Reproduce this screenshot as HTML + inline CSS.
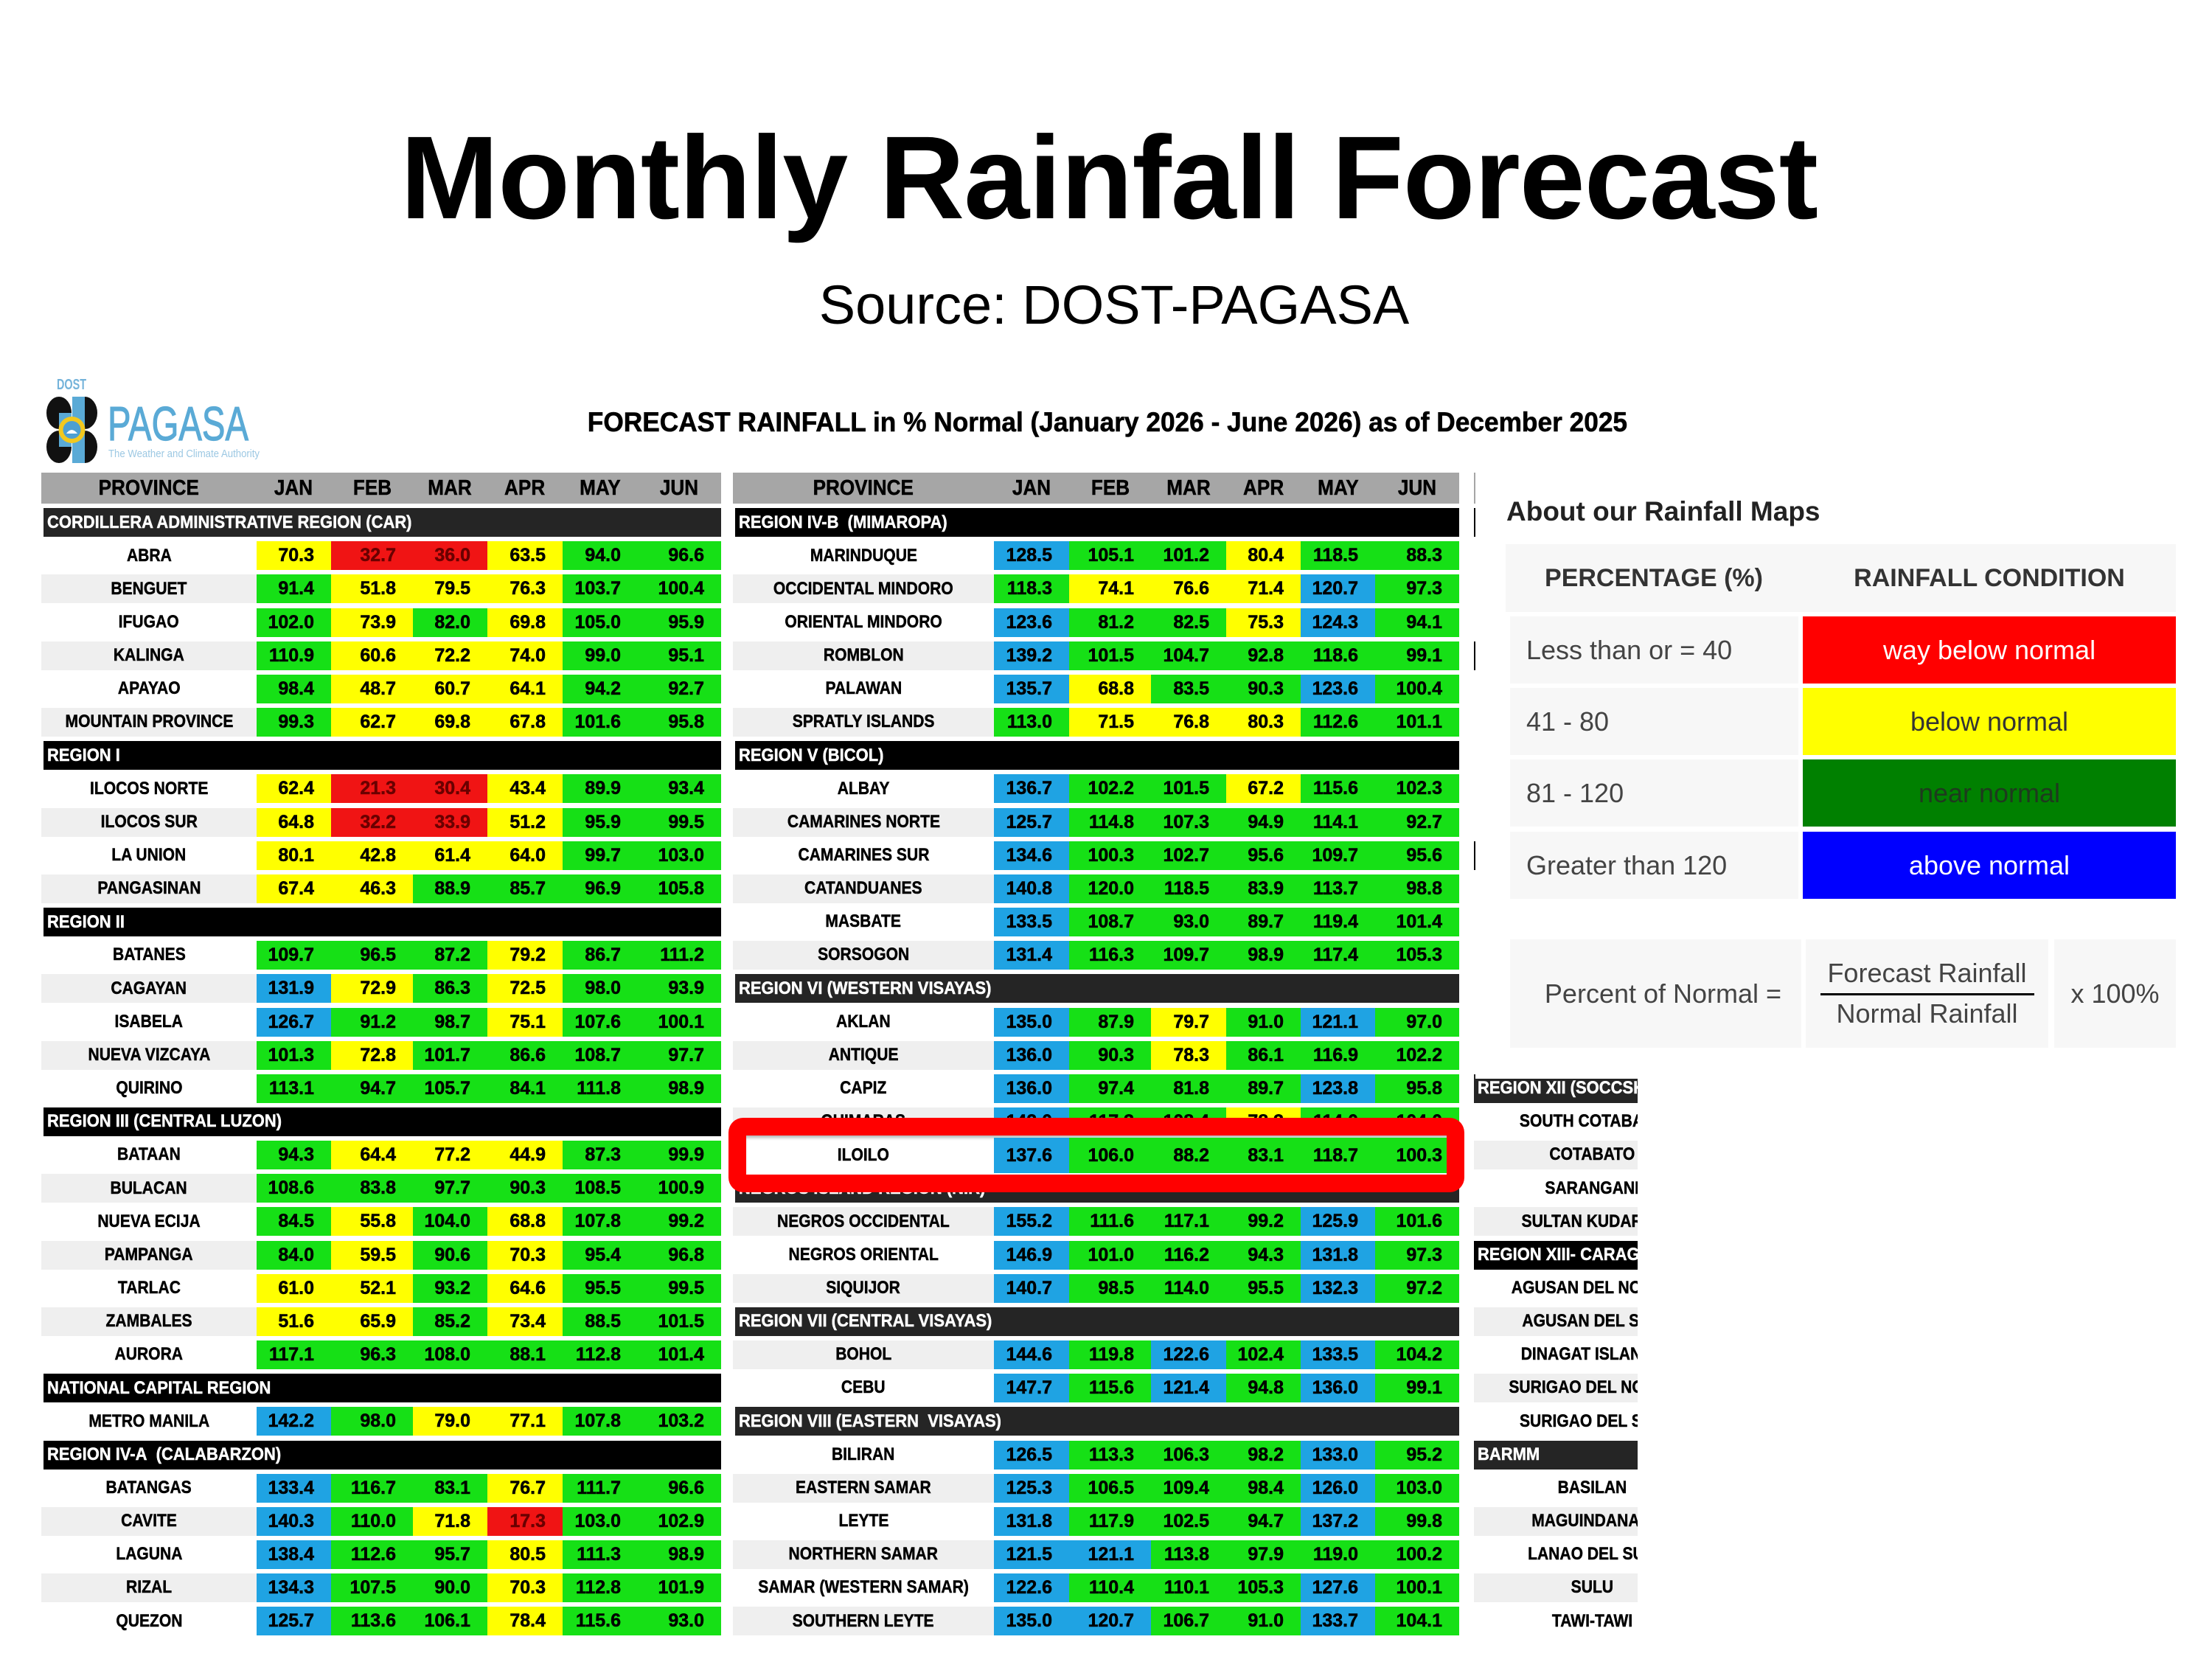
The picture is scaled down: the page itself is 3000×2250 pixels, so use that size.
<!DOCTYPE html>
<html><head><meta charset="utf-8">
<style>
html,body{margin:0;padding:0}
body{width:3000px;height:2250px;position:relative;overflow:hidden;background:#fff;font-family:"Liberation Sans",sans-serif}
.ab{position:absolute}
.t{position:absolute;top:641px}
.t>div{height:45.17px;box-sizing:border-box;padding:3px 0 3.17px 0;display:grid}
.L{width:922px}.L>div{grid-template-columns:292px 101px 111px 101px 102px 102px 113px}
.R{width:985px}.R>div{grid-template-columns:354px 102px 111px 102px 101px 101px 114px}
.M{width:222px;overflow:hidden}.M>div{grid-template-columns:320px}
.t>div>b{display:flex;align-items:center;justify-content:flex-end;padding-right:23px;font:bold 25px/1 "Liberation Sans",sans-serif;color:#000;overflow:visible;-webkit-text-stroke:0.5px currentColor}
.t>div>b:first-child{justify-content:center;padding-right:0;font-size:24.5px}
.t i{font-style:normal;display:inline-block;white-space:nowrap;transform:scaleX(.86)}
.t>div.h{padding-top:0}
.t>div.h>b{background:#a6a6a6;justify-content:center;padding-right:0;font-size:29px}
.t>div.h i{transform:scaleX(.9)}
.t>div>b.bar{grid-column:1/-1;justify-content:flex-start;padding:0 0 0 5px;margin-left:3px;background:#000;color:#fff;font-size:24px}
.t .bar i{transform-origin:0 50%;transform:scaleX(.915)}
.t>div>b.bar.d{background:#252525}
.s{background:#efefef}
.y{background:#ffff00}
.t b.r{background:#f01414;color:#6a0000}
.g{background:#16e016}
.b{background:#1fa3e3}
.lc{position:absolute;background:#f7f7f7;display:flex;align-items:center;font:36px/1 "Liberation Sans",sans-serif;color:#444;box-sizing:border-box}
.c{justify-content:center}
.hd{font-weight:bold;color:#333;font-size:34px}
</style></head><body>

<div class="ab" style="left:4px;top:161px;width:3000px;text-align:center;font:bold 160px/160px 'Liberation Sans',sans-serif;letter-spacing:-1px;color:#000;white-space:nowrap">Monthly Rainfall Forecast</div>
<div class="ab" style="left:11px;top:377px;width:3000px;text-align:center;font:74px/74px 'Liberation Sans',sans-serif;color:#000;white-space:nowrap">Source: DOST-PAGASA</div>

<svg class="ab" style="left:0;top:480px" width="400" height="170">
<text x="77" y="48" font-family="Liberation Sans" font-weight="bold" font-size="20" fill="#74b3da" textLength="40" lengthAdjust="spacingAndGlyphs">DOST</text>
<ellipse cx="80" cy="80" rx="17" ry="22" fill="#111"/>
<path d="M80 80 L97 80 L97 102 L80 102 Z" fill="#5aaad6"/>
<ellipse cx="115" cy="80" rx="17" ry="22" fill="#111"/>
<path d="M98 58 L115 58 L115 102 L98 102 Z" fill="#5aaad6"/>
<ellipse cx="80" cy="126" rx="17" ry="22" fill="#111"/>
<path d="M80 104 L97 104 L97 126 L80 126 Z" fill="#5aaad6"/>
<ellipse cx="115" cy="126" rx="17" ry="22" fill="#111"/>
<path d="M98 104 L115 104 L115 148 L98 148 Z" fill="#5aaad6"/>
<circle cx="97.5" cy="103" r="18" fill="#f2c81e"/>
<circle cx="97.5" cy="103" r="12" fill="#4d9fd2"/>
<path d="M90 108 Q97 98 105 108 Z" fill="#fff"/>
<text x="146" y="117" font-family="Liberation Sans" font-size="65" fill="#5aaad6" stroke="#5aaad6" stroke-width="1.2" textLength="191" lengthAdjust="spacingAndGlyphs">PAGASA</text>
<text x="147" y="140" font-family="Liberation Sans" font-size="15" fill="#9cc8e3" textLength="205" lengthAdjust="spacingAndGlyphs">The Weather and Climate Authority</text>
</svg>

<div class="ab" style="left:2px;top:554px;width:3000px;text-align:center;white-space:nowrap"><span style="display:inline-block;transform:scaleX(.953);font:bold 37px/37px 'Liberation Sans',sans-serif;color:#000;-webkit-text-stroke:0.6px #000">FORECAST RAINFALL in % Normal (January 2026 - June 2026) as of December 2025</span></div>

<!-- LEFT TABLE -->
<div class="t L" style="left:56px">
<div class="h"><b><i>PROVINCE</i></b><b><i>JAN</i></b><b><i>FEB</i></b><b><i>MAR</i></b><b><i>APR</i></b><b><i>MAY</i></b><b><i>JUN</i></b></div>
<div><b class="bar d"><i>CORDILLERA ADMINISTRATIVE REGION (CAR)</i></b></div>
<div><b><i>ABRA</i></b><b class="y">70.3</b><b class="r">32.7</b><b class="r">36.0</b><b class="y">63.5</b><b class="g">94.0</b><b class="g">96.6</b></div>
<div><b class="s"><i>BENGUET</i></b><b class="g">91.4</b><b class="y">51.8</b><b class="y">79.5</b><b class="y">76.3</b><b class="g">103.7</b><b class="g">100.4</b></div>
<div><b><i>IFUGAO</i></b><b class="g">102.0</b><b class="y">73.9</b><b class="g">82.0</b><b class="y">69.8</b><b class="g">105.0</b><b class="g">95.9</b></div>
<div><b class="s"><i>KALINGA</i></b><b class="g">110.9</b><b class="y">60.6</b><b class="y">72.2</b><b class="y">74.0</b><b class="g">99.0</b><b class="g">95.1</b></div>
<div><b><i>APAYAO</i></b><b class="g">98.4</b><b class="y">48.7</b><b class="y">60.7</b><b class="y">64.1</b><b class="g">94.2</b><b class="g">92.7</b></div>
<div><b class="s"><i>MOUNTAIN PROVINCE</i></b><b class="g">99.3</b><b class="y">62.7</b><b class="y">69.8</b><b class="y">67.8</b><b class="g">101.6</b><b class="g">95.8</b></div>
<div><b class="bar"><i>REGION I</i></b></div>
<div><b><i>ILOCOS NORTE</i></b><b class="y">62.4</b><b class="r">21.3</b><b class="r">30.4</b><b class="y">43.4</b><b class="g">89.9</b><b class="g">93.4</b></div>
<div><b class="s"><i>ILOCOS SUR</i></b><b class="y">64.8</b><b class="r">32.2</b><b class="r">33.9</b><b class="y">51.2</b><b class="g">95.9</b><b class="g">99.5</b></div>
<div><b><i>LA UNION</i></b><b class="y">80.1</b><b class="y">42.8</b><b class="y">61.4</b><b class="y">64.0</b><b class="g">99.7</b><b class="g">103.0</b></div>
<div><b class="s"><i>PANGASINAN</i></b><b class="y">67.4</b><b class="y">46.3</b><b class="g">88.9</b><b class="g">85.7</b><b class="g">96.9</b><b class="g">105.8</b></div>
<div><b class="bar"><i>REGION II</i></b></div>
<div><b><i>BATANES</i></b><b class="g">109.7</b><b class="g">96.5</b><b class="g">87.2</b><b class="y">79.2</b><b class="g">86.7</b><b class="g">111.2</b></div>
<div><b class="s"><i>CAGAYAN</i></b><b class="b">131.9</b><b class="y">72.9</b><b class="g">86.3</b><b class="y">72.5</b><b class="g">98.0</b><b class="g">93.9</b></div>
<div><b><i>ISABELA</i></b><b class="b">126.7</b><b class="g">91.2</b><b class="g">98.7</b><b class="y">75.1</b><b class="g">107.6</b><b class="g">100.1</b></div>
<div><b class="s"><i>NUEVA VIZCAYA</i></b><b class="g">101.3</b><b class="y">72.8</b><b class="g">101.7</b><b class="g">86.6</b><b class="g">108.7</b><b class="g">97.7</b></div>
<div><b><i>QUIRINO</i></b><b class="g">113.1</b><b class="g">94.7</b><b class="g">105.7</b><b class="g">84.1</b><b class="g">111.8</b><b class="g">98.9</b></div>
<div><b class="bar"><i>REGION III (CENTRAL LUZON)</i></b></div>
<div><b><i>BATAAN</i></b><b class="g">94.3</b><b class="y">64.4</b><b class="y">77.2</b><b class="y">44.9</b><b class="g">87.3</b><b class="g">99.9</b></div>
<div><b class="s"><i>BULACAN</i></b><b class="g">108.6</b><b class="g">83.8</b><b class="g">97.7</b><b class="g">90.3</b><b class="g">108.5</b><b class="g">100.9</b></div>
<div><b><i>NUEVA ECIJA</i></b><b class="g">84.5</b><b class="y">55.8</b><b class="g">104.0</b><b class="y">68.8</b><b class="g">107.8</b><b class="g">99.2</b></div>
<div><b class="s"><i>PAMPANGA</i></b><b class="g">84.0</b><b class="y">59.5</b><b class="g">90.6</b><b class="y">70.3</b><b class="g">95.4</b><b class="g">96.8</b></div>
<div><b><i>TARLAC</i></b><b class="y">61.0</b><b class="y">52.1</b><b class="g">93.2</b><b class="y">64.6</b><b class="g">95.5</b><b class="g">99.5</b></div>
<div><b class="s"><i>ZAMBALES</i></b><b class="y">51.6</b><b class="y">65.9</b><b class="g">85.2</b><b class="y">73.4</b><b class="g">88.5</b><b class="g">101.5</b></div>
<div><b><i>AURORA</i></b><b class="g">117.1</b><b class="g">96.3</b><b class="g">108.0</b><b class="g">88.1</b><b class="g">112.8</b><b class="g">101.4</b></div>
<div><b class="bar"><i>NATIONAL CAPITAL REGION</i></b></div>
<div><b><i>METRO MANILA</i></b><b class="b">142.2</b><b class="g">98.0</b><b class="y">79.0</b><b class="y">77.1</b><b class="g">107.8</b><b class="g">103.2</b></div>
<div><b class="bar"><i>REGION IV-A&nbsp; (CALABARZON)</i></b></div>
<div><b><i>BATANGAS</i></b><b class="b">133.4</b><b class="g">116.7</b><b class="g">83.1</b><b class="y">76.7</b><b class="g">111.7</b><b class="g">96.6</b></div>
<div><b class="s"><i>CAVITE</i></b><b class="b">140.3</b><b class="g">110.0</b><b class="y">71.8</b><b class="r">17.3</b><b class="g">103.0</b><b class="g">102.9</b></div>
<div><b><i>LAGUNA</i></b><b class="b">138.4</b><b class="g">112.6</b><b class="g">95.7</b><b class="y">80.5</b><b class="g">111.3</b><b class="g">98.9</b></div>
<div><b class="s"><i>RIZAL</i></b><b class="b">134.3</b><b class="g">107.5</b><b class="g">90.0</b><b class="y">70.3</b><b class="g">112.8</b><b class="g">101.9</b></div>
<div><b><i>QUEZON</i></b><b class="b">125.7</b><b class="g">113.6</b><b class="g">106.1</b><b class="y">78.4</b><b class="g">115.6</b><b class="g">93.0</b></div>
</div>

<!-- RIGHT TABLE -->
<div class="t R" style="left:994px">
<div class="h"><b><i>PROVINCE</i></b><b><i>JAN</i></b><b><i>FEB</i></b><b><i>MAR</i></b><b><i>APR</i></b><b><i>MAY</i></b><b><i>JUN</i></b></div>
<div><b class="bar"><i>REGION IV-B&nbsp; (MIMAROPA)</i></b></div>
<div><b><i>MARINDUQUE</i></b><b class="b">128.5</b><b class="g">105.1</b><b class="g">101.2</b><b class="y">80.4</b><b class="g">118.5</b><b class="g">88.3</b></div>
<div><b class="s"><i>OCCIDENTAL MINDORO</i></b><b class="g">118.3</b><b class="y">74.1</b><b class="y">76.6</b><b class="y">71.4</b><b class="b">120.7</b><b class="g">97.3</b></div>
<div><b><i>ORIENTAL MINDORO</i></b><b class="b">123.6</b><b class="g">81.2</b><b class="g">82.5</b><b class="y">75.3</b><b class="b">124.3</b><b class="g">94.1</b></div>
<div><b class="s"><i>ROMBLON</i></b><b class="b">139.2</b><b class="g">101.5</b><b class="g">104.7</b><b class="g">92.8</b><b class="g">118.6</b><b class="g">99.1</b></div>
<div><b><i>PALAWAN</i></b><b class="b">135.7</b><b class="y">68.8</b><b class="g">83.5</b><b class="g">90.3</b><b class="b">123.6</b><b class="g">100.4</b></div>
<div><b class="s"><i>SPRATLY ISLANDS</i></b><b class="g">113.0</b><b class="y">71.5</b><b class="y">76.8</b><b class="y">80.3</b><b class="g">112.6</b><b class="g">101.1</b></div>
<div><b class="bar"><i>REGION V (BICOL)</i></b></div>
<div><b><i>ALBAY</i></b><b class="b">136.7</b><b class="g">102.2</b><b class="g">101.5</b><b class="y">67.2</b><b class="g">115.6</b><b class="g">102.3</b></div>
<div><b class="s"><i>CAMARINES NORTE</i></b><b class="b">125.7</b><b class="g">114.8</b><b class="g">107.3</b><b class="g">94.9</b><b class="g">114.1</b><b class="g">92.7</b></div>
<div><b><i>CAMARINES SUR</i></b><b class="b">134.6</b><b class="g">100.3</b><b class="g">102.7</b><b class="g">95.6</b><b class="g">109.7</b><b class="g">95.6</b></div>
<div><b class="s"><i>CATANDUANES</i></b><b class="b">140.8</b><b class="g">120.0</b><b class="g">118.5</b><b class="g">83.9</b><b class="g">113.7</b><b class="g">98.8</b></div>
<div><b><i>MASBATE</i></b><b class="b">133.5</b><b class="g">108.7</b><b class="g">93.0</b><b class="g">89.7</b><b class="g">119.4</b><b class="g">101.4</b></div>
<div><b class="s"><i>SORSOGON</i></b><b class="b">131.4</b><b class="g">116.3</b><b class="g">109.7</b><b class="g">98.9</b><b class="g">117.4</b><b class="g">105.3</b></div>
<div><b class="bar d"><i>REGION VI (WESTERN VISAYAS)</i></b></div>
<div><b><i>AKLAN</i></b><b class="b">135.0</b><b class="g">87.9</b><b class="y">79.7</b><b class="g">91.0</b><b class="b">121.1</b><b class="g">97.0</b></div>
<div><b class="s"><i>ANTIQUE</i></b><b class="b">136.0</b><b class="g">90.3</b><b class="y">78.3</b><b class="g">86.1</b><b class="g">116.9</b><b class="g">102.2</b></div>
<div><b><i>CAPIZ</i></b><b class="b">136.0</b><b class="g">97.4</b><b class="g">81.8</b><b class="g">89.7</b><b class="b">123.8</b><b class="g">95.8</b></div>
<div><b class="s"><i>GUIMARAS</i></b><b class="b">142.0</b><b class="g">117.3</b><b class="g">108.4</b><b class="y">78.3</b><b class="g">114.0</b><b class="g">104.0</b></div>
<div><b><i>ILOILO</i></b><b class="b">137.6</b><b class="g">106.0</b><b class="g">88.2</b><b class="g">83.1</b><b class="g">118.7</b><b class="g">100.3</b></div>
<div><b class="bar d"><i>NEGROS ISLAND REGION (NIR)</i></b></div>
<div><b class="s"><i>NEGROS OCCIDENTAL</i></b><b class="b">155.2</b><b class="g">111.6</b><b class="g">117.1</b><b class="g">99.2</b><b class="b">125.9</b><b class="g">101.6</b></div>
<div><b><i>NEGROS ORIENTAL</i></b><b class="b">146.9</b><b class="g">101.0</b><b class="g">116.2</b><b class="g">94.3</b><b class="b">131.8</b><b class="g">97.3</b></div>
<div><b class="s"><i>SIQUIJOR</i></b><b class="b">140.7</b><b class="g">98.5</b><b class="g">114.0</b><b class="g">95.5</b><b class="b">132.3</b><b class="g">97.2</b></div>
<div><b class="bar d"><i>REGION VII (CENTRAL VISAYAS)</i></b></div>
<div><b class="s"><i>BOHOL</i></b><b class="b">144.6</b><b class="g">119.8</b><b class="b">122.6</b><b class="g">102.4</b><b class="b">133.5</b><b class="g">104.2</b></div>
<div><b><i>CEBU</i></b><b class="b">147.7</b><b class="g">115.6</b><b class="b">121.4</b><b class="g">94.8</b><b class="b">136.0</b><b class="g">99.1</b></div>
<div><b class="bar d"><i>REGION VIII (EASTERN&nbsp; VISAYAS)</i></b></div>
<div><b><i>BILIRAN</i></b><b class="b">126.5</b><b class="g">113.3</b><b class="g">106.3</b><b class="g">98.2</b><b class="b">133.0</b><b class="g">95.2</b></div>
<div><b class="s"><i>EASTERN SAMAR</i></b><b class="b">125.3</b><b class="g">106.5</b><b class="g">109.4</b><b class="g">98.4</b><b class="b">126.0</b><b class="g">103.0</b></div>
<div><b><i>LEYTE</i></b><b class="b">131.8</b><b class="g">117.9</b><b class="g">102.5</b><b class="g">94.7</b><b class="b">137.2</b><b class="g">99.8</b></div>
<div><b class="s"><i>NORTHERN SAMAR</i></b><b class="b">121.5</b><b class="b">121.1</b><b class="g">113.8</b><b class="g">97.9</b><b class="g">119.0</b><b class="g">100.2</b></div>
<div><b><i>SAMAR (WESTERN SAMAR)</i></b><b class="b">122.6</b><b class="g">110.4</b><b class="g">110.1</b><b class="g">105.3</b><b class="b">127.6</b><b class="g">100.1</b></div>
<div><b class="s"><i>SOUTHERN LEYTE</i></b><b class="b">135.0</b><b class="b">120.7</b><b class="g">106.7</b><b class="g">91.0</b><b class="b">133.7</b><b class="g">104.1</b></div>
</div>

<!-- THIRD (CLIPPED) TABLE -->
<div class="t M" style="left:1999px">
<div class="h"><b></b></div>
<div><b class="bar" style="margin-left:0"></b></div>
<div></div><div></div><div></div>
<div><b class="bar" style="margin-left:0"></b></div>
<div></div><div></div><div></div><div></div><div></div>
<div><b class="bar" style="margin-left:0"></b></div>
<div></div><div></div><div></div><div></div><div></div><div></div>
<div><b class="bar d" style="margin-left:0"><i>REGION XII (SOCCSKSARGEN)</i></b></div>
<div><b><i>SOUTH COTABATO</i></b></div>
<div><b class="s"><i>COTABATO</i></b></div>
<div><b><i>SARANGANI</i></b></div>
<div><b class="s"><i>SULTAN KUDARAT</i></b></div>
<div><b class="bar" style="margin-left:0"><i>REGION XIII- CARAGA</i></b></div>
<div><b><i>AGUSAN DEL NORTE</i></b></div>
<div><b class="s"><i>AGUSAN DEL SUR</i></b></div>
<div><b><i>DINAGAT ISLANDS</i></b></div>
<div><b class="s"><i>SURIGAO DEL NORTE</i></b></div>
<div><b><i>SURIGAO DEL SUR</i></b></div>
<div><b class="bar d" style="margin-left:0"><i>BARMM</i></b></div>
<div><b><i>BASILAN</i></b></div>
<div><b class="s"><i>MAGUINDANAO</i></b></div>
<div><b><i>LANAO DEL SUR</i></b></div>
<div><b class="s"><i>SULU</i></b></div>
<div><b><i>TAWI-TAWI</i></b></div>
</div>

<!-- LEGEND PANEL -->
<div class="ab" style="left:2001px;top:628px;width:999px;height:835px;background:#fff"></div>
<div class="ab" style="left:2043px;top:675px;font:bold 37px/37px 'Liberation Sans',sans-serif;color:#222;white-space:nowrap">About our Rainfall Maps</div>
<div class="lc" style="left:2042px;top:738px;width:909px;height:92px"></div>
<div class="lc c hd" style="left:2042px;top:738px;width:402px;height:92px">PERCENTAGE (%)</div>
<div class="lc c hd" style="left:2445px;top:738px;width:506px;height:92px">RAINFALL CONDITION</div>

<div class="lc" style="left:2048px;top:836px;width:391px;height:91px;padding-left:22px">Less than or = 40</div>
<div class="lc c" style="left:2445px;top:836px;width:506px;height:91px;background:#ff0000;color:#fff">way below normal</div>
<div class="lc" style="left:2048px;top:933px;width:391px;height:91px;padding-left:22px">41 - 80</div>
<div class="lc c" style="left:2445px;top:933px;width:506px;height:91px;background:#ffff00;color:#333">below normal</div>
<div class="lc" style="left:2048px;top:1030px;width:391px;height:91px;padding-left:22px">81 - 120</div>
<div class="lc c" style="left:2445px;top:1030px;width:506px;height:91px;background:#008000;color:#1e3a1e">near normal</div>
<div class="lc" style="left:2048px;top:1128px;width:391px;height:91px;padding-left:22px">Greater than 120</div>
<div class="lc c" style="left:2445px;top:1128px;width:506px;height:91px;background:#0000ff;color:#fff">above normal</div>

<div class="lc c" style="left:2048px;top:1274px;width:395px;height:147px;padding-left:20px">Percent of Normal =</div>
<div class="lc" style="left:2449px;top:1274px;width:329px;height:147px"></div>
<div class="ab" style="left:2449px;top:1302px;width:329px;text-align:center;font:36px/36px 'Liberation Sans',sans-serif;color:#444">Forecast Rainfall</div>
<div class="ab" style="left:2469px;top:1347px;width:290px;height:3px;background:#000"></div>
<div class="ab" style="left:2449px;top:1357px;width:329px;text-align:center;font:36px/36px 'Liberation Sans',sans-serif;color:#444">Normal Rainfall</div>
<div class="lc c" style="left:2786px;top:1274px;width:165px;height:147px">x 100%</div>

<!-- RED HIGHLIGHT BOX -->
<div class="ab" style="left:988px;top:1516px;width:950px;height:53px;border:24px solid #ff0000;border-radius:20px;background:#fff;overflow:hidden;box-shadow:inset 0 5px 4px -2px rgba(0,0,0,.3)">
<div class="t R" style="left:-18px;top:3px">
<div style="height:48px;padding:0"><b><i>ILOILO</i></b><b class="b">137.6</b><b class="g">106.0</b><b class="g">88.2</b><b class="g">83.1</b><b class="g">118.7</b><b class="g">100.3</b></div>
</div>
</div>

</body></html>
